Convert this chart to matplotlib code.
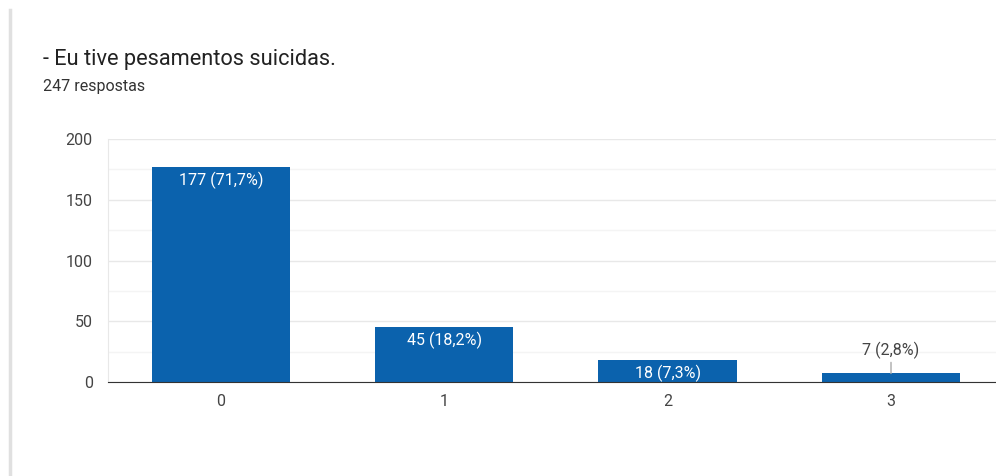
import matplotlib.pyplot as plt
from matplotlib.ticker import MultipleLocator

plt.rcParams["font.family"] = ["Roboto", "DejaVu Sans"]

# dados do grafico
categorias = ["0", "1", "2", "3"]
valores = [177, 45, 18, 7]
rotulos = ["177 (71,7%)", "45 (18,2%)", "18 (7,3%)", "7 (2,8%)"]

fig = plt.figure(figsize=(9.96, 4.76), dpi=100)
ax = fig.add_axes([108 / 996, (476 - 382) / 476, 1 - 108 / 996, (382 - 139) / 476])

x = range(len(categorias))
ax.bar(x, valores, width=0.62, color="#0b62ad", zorder=3)

ax.set_xlim(-0.505, 3.47)
ax.set_ylim(0, 200)
ax.yaxis.set_major_locator(MultipleLocator(50))
ax.yaxis.set_minor_locator(MultipleLocator(25))
ax.grid(axis="y", which="major", color="#e8e8e8", linewidth=1, zorder=0)
ax.grid(axis="y", which="minor", color="#f4f4f4", linewidth=1, zorder=0)

ax.set_xticks(list(x))
ax.set_xticklabels(categorias)
ax.tick_params(axis="both", which="both", length=0, labelsize=11.5, labelcolor="#444444")
ax.tick_params(axis="y", pad=11)
ax.tick_params(axis="x", pad=9)

for lado in ["top", "right"]:
    ax.spines[lado].set_visible(False)
ax.spines["left"].set_color("#e8e8e8")
ax.spines["bottom"].set_color("#333333")
ax.spines["bottom"].set_zorder(4)

# rotulos das barras
for i, v in enumerate(valores):
    if v > 15:
        ax.annotate(rotulos[i], (i, v), xytext=(0, -3.5), textcoords="offset points",
                    ha="center", va="top", color="white", fontsize=11.5, zorder=5)
    else:
        ax.annotate(rotulos[i], (i, v), xytext=(0, 10.5), textcoords="offset points",
                    ha="center", va="bottom", color="#444444", fontsize=11.5, zorder=5,
                    arrowprops=dict(arrowstyle="-", color="#aaaaaa", lw=1,
                                    shrinkA=0.5, shrinkB=0))

fig.text(43 / 996, 1 - 60 / 476, "- Eu tive pesamentos suicidas.", fontsize=15.7,
         color="#222222", va="center")
fig.text(43 / 996, 1 - 87 / 476, "247 respostas", fontsize=11.5,
         color="#333333", va="center")

# barra cinza a esquerda
fig.add_artist(plt.Line2D([9.5 / 996, 9.5 / 996], [0, 1 - 10 / 476],
                          color="#e0e0e0", linewidth=2.5))

plt.savefig("out.png", dpi=100)
